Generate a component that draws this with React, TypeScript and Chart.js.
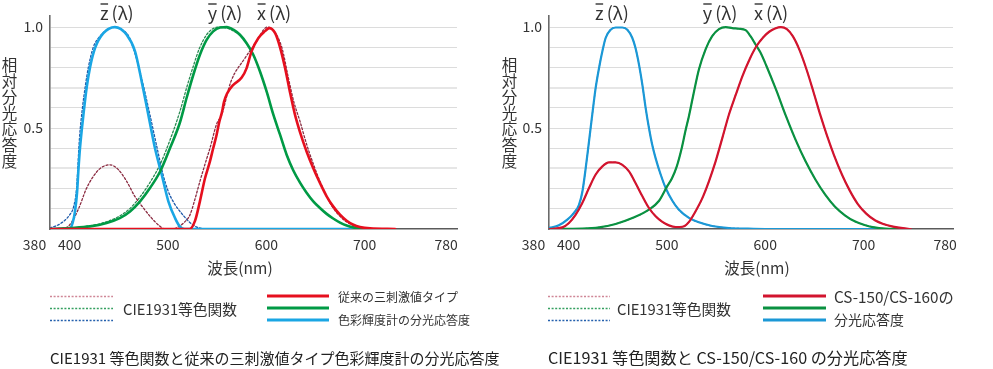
import React, { useEffect, useRef } from 'react';
import { Chart, registerables } from 'chart.js';
Chart.register(...registerables);

const FONT = "'Noto Sans CJK JP', 'Noto Sans', sans-serif";

// ---------- axis ticks ----------
const X_TICKS = [380, 400, 500, 600, 700, 780];
const Y_TICKS = [0, 0.1, 0.2, 0.3, 0.4, 0.5, 0.6, 0.7, 0.8, 0.9, 1.0];
const Y_LABELS: Record<string, string> = { '0.5': '0.5', '1': '1.0' };

// ---------- left panel: CIE1931 (dotted) ----------
const L_CIE_Z_NM = [380, 390, 400, 404, 407, 410, 413, 416, 419, 424, 430, 436, 446, 452, 460, 467, 474, 481, 489, 495, 500, 506, 516, 524, 532, 545, 700];
const L_CIE_Z = [0.005, 0.025, 0.07, 0.11, 0.2, 0.45, 0.6, 0.71, 0.8, 0.9, 0.95, 0.98, 1.0, 0.99, 0.955, 0.86, 0.73, 0.58, 0.4, 0.27, 0.19, 0.13, 0.065, 0.025, 0.005, 0, 0];

const L_CIE_X_NM = [380, 395, 400, 409, 417, 424, 431, 441, 449.5, 458, 466.5, 475, 483.4, 492, 497, 505, 512, 517, 522.4, 527, 532.5, 537.6, 542.7, 549.5, 554.6, 564, 578.4, 590.2, 597, 601, 608, 616, 622.4, 628, 634.3, 641, 648, 654.6, 661.4, 668, 675, 681.8, 692, 705.5, 720];
const L_CIE_X = [0, 0.005, 0.02, 0.1, 0.2, 0.26, 0.3, 0.318, 0.294, 0.236, 0.16, 0.104, 0.054, 0.013, 0, 0, 0.015, 0.035, 0.07, 0.14, 0.236, 0.32, 0.4, 0.52, 0.566, 0.73, 0.847, 0.93, 0.985, 1.0, 0.98, 0.896, 0.75, 0.63, 0.533, 0.42, 0.32, 0.236, 0.162, 0.104, 0.063, 0.035, 0.013, 0.002, 0];

const L_CIE_Y_NM = [380, 420, 440, 451, 461, 471, 481, 492, 502, 512, 519, 526, 532, 539, 546, 553, 560, 566, 573, 580, 586.8, 593.6, 600.4, 607.2, 614, 620.7, 627.5, 634.3, 641, 647.8, 654.6, 661.4, 668, 675, 681.8, 688.6, 695, 705];
const L_CIE_Y = [0, 0.015, 0.04, 0.065, 0.1, 0.155, 0.225, 0.32, 0.44, 0.58, 0.7, 0.81, 0.895, 0.96, 0.993, 1.0, 0.995, 0.982, 0.96, 0.92, 0.863, 0.78, 0.68, 0.566, 0.467, 0.368, 0.29, 0.23, 0.18, 0.137, 0.104, 0.075, 0.052, 0.032, 0.017, 0.008, 0.003, 0];

// ---------- left panel: conventional tristimulus meter (solid) ----------
const L_MET_Z_NM = [380, 400, 403, 405.5, 407.5, 409, 410.5, 414, 417.3, 420.7, 425.8, 434.3, 446, 458, 466.5, 473.3, 480, 486.8, 493.6, 500.4, 507.2, 512, 517, 705];
const L_MET_Z = [0, 0, 0.03, 0.09, 0.18, 0.3, 0.4, 0.566, 0.7, 0.8, 0.896, 0.97, 1.0, 0.962, 0.88, 0.73, 0.566, 0.4, 0.27, 0.137, 0.054, 0.013, 0, 0];

const L_MET_X_NM = [380, 522, 527.5, 532.5, 537.6, 542.7, 546, 549.5, 552.2, 555, 557, 560, 566.5, 575, 580, 585, 592, 598.7, 603, 609, 614, 619, 624, 629, 634.3, 641, 647.9, 654.6, 661.4, 668, 675, 681.8, 688.6, 695.3, 705.5, 731];
const L_MET_X = [0, 0, 0.04, 0.137, 0.25, 0.335, 0.4, 0.467, 0.53, 0.58, 0.63, 0.67, 0.714, 0.75, 0.797, 0.88, 0.946, 0.98, 0.995, 0.97, 0.9, 0.8, 0.68, 0.57, 0.48, 0.384, 0.3, 0.228, 0.162, 0.112, 0.071, 0.041, 0.021, 0.01, 0.003, 0];

const L_MET_Y_NM = [380, 400, 420.7, 437.6, 451, 461.4, 471.6, 481.7, 492, 502, 512, 519, 525.8, 532.5, 539.3, 546, 552.9, 559.7, 566.5, 573.2, 580, 586.8, 593.6, 600.4, 607.2, 614, 620.7, 627.5, 634.3, 641, 647.8, 654.6, 661.4, 668, 675, 681.8, 688.6, 695, 705];
const L_MET_Y = [0, 0.005, 0.013, 0.03, 0.054, 0.087, 0.137, 0.203, 0.285, 0.4, 0.525, 0.65, 0.764, 0.863, 0.937, 0.979, 0.998, 1.0, 0.987, 0.962, 0.92, 0.863, 0.78, 0.68, 0.566, 0.467, 0.368, 0.29, 0.23, 0.18, 0.137, 0.104, 0.075, 0.052, 0.032, 0.017, 0.008, 0.003, 0];

// ---------- right panel: CS-150/CS-160 (solid, CIE dotted beneath) ----------
const R_Z_NM = [380, 390, 398.6, 405.4, 410.5, 414, 417.3, 420.7, 424, 427.5, 431, 434.3, 437.6, 442.7, 447.8, 454.6, 459.7, 464.8, 468, 471.6, 475, 478.3, 481.7, 485, 488.5, 493.6, 498.7, 505.5, 512.2, 522.4, 532.5, 546, 563, 580, 600, 745];
const R_Z = [0.005, 0.018, 0.046, 0.08, 0.12, 0.186, 0.3, 0.434, 0.566, 0.7, 0.8, 0.88, 0.946, 0.987, 0.998, 0.998, 0.987, 0.946, 0.896, 0.813, 0.714, 0.6, 0.5, 0.417, 0.35, 0.27, 0.203, 0.14, 0.095, 0.055, 0.033, 0.015, 0.005, 0.002, 0, 0];

const R_X_NM = [380, 393.6, 400.3, 407, 414, 420.7, 427.5, 434.3, 441, 447.8, 454.6, 461.4, 468, 475, 481.7, 488.5, 495.3, 502, 508.9, 513, 518, 522.4, 529, 536, 542.7, 549.5, 556.3, 563, 570, 577, 584, 591, 598, 604, 610, 616, 622, 628, 635, 642, 649, 656, 663, 670, 678, 686, 694, 703, 712, 720, 730, 740, 748];
const R_X = [0, 0.008, 0.03, 0.07, 0.13, 0.203, 0.27, 0.31, 0.33, 0.33, 0.318, 0.285, 0.228, 0.162, 0.104, 0.063, 0.035, 0.018, 0.01, 0.01, 0.015, 0.035, 0.087, 0.153, 0.236, 0.335, 0.45, 0.566, 0.665, 0.76, 0.84, 0.905, 0.95, 0.977, 0.993, 1.0, 0.99, 0.955, 0.885, 0.79, 0.68, 0.565, 0.46, 0.365, 0.27, 0.19, 0.125, 0.075, 0.042, 0.025, 0.012, 0.004, 0];

const R_Y_NM = [380, 414, 431, 447.8, 464.8, 481.7, 492, 500, 505, 510, 515, 519, 522.4, 525.8, 532.5, 539.3, 546, 552.9, 559.7, 566.5, 573.2, 580, 585, 590, 595, 601, 611, 621, 631, 641, 651, 661, 671, 681, 691, 701, 711, 722, 735];
const R_Y = [0, 0.002, 0.008, 0.025, 0.054, 0.096, 0.14, 0.21, 0.25, 0.31, 0.4, 0.49, 0.56, 0.64, 0.79, 0.89, 0.955, 0.99, 1.0, 0.995, 0.992, 0.985, 0.955, 0.915, 0.875, 0.81, 0.69, 0.56, 0.44, 0.335, 0.245, 0.17, 0.11, 0.068, 0.038, 0.02, 0.008, 0.002, 0];

// ---------- text ----------
const Y_TITLE = '相対分光応答度';
const X_TITLE = '波長(nm)';
const CIE_LABEL = 'CIE1931等色関数';
const L_MET_LABEL = ['従来の三刺激値タイプ', '色彩輝度計の分光応答度'];
const R_MET_LABEL = ['CS-150/CS-160の', '分光応答度'];
const L_CAPTION = 'CIE1931 等色関数と従来の三刺激値タイプ色彩輝度計の分光応答度';
const R_CAPTION = 'CIE1931 等色関数と CS-150/CS-160 の分光応答度';
const CURVE_NAMES = ['z', 'y', 'x'];

type Curve = { nm: number[]; v: number[]; color: string; width: number; dash?: number[] };

interface PanelCfg {
  canvasLeft: number;
  canvasWidth: number;
  axisLeft: number;
  padRight: number;
  xMax: number;
  curves: Curve[];
  curveLabelNm: number[];
  dotColors: string[];
  solidColors: string[];
  solidWidth: number;
  cieLabelX: number;
  dotX: [number, number];
  solidX: [number, number];
  metLabel: string[];
  metLabelX: number;
  metLabelW: number[];
  metFixedSize: number;
  caption: string;
  captionX: number;
  captionW: number;
  xTitleX: number;
}

const L_RED = '#e60f1e', L_GREEN = '#009a45', L_BLUE = '#1aa6e4';
const R_RED = '#d2142e', R_GREEN = '#0a9141', R_BLUE = '#1b98d6';
const D_RED = '#8a2a40', D_GREEN = '#2a8a52', D_BLUE = '#1f5aaa';
const LEG_DOT = ['#cf8696', '#35a060', '#2460ad'];

const LEFT: PanelCfg = {
  canvasLeft: 0, canvasWidth: 500, axisLeft: 50, padRight: 43, xMax: 794,
  curves: [
    { nm: L_MET_X_NM, v: L_MET_X, color: L_RED, width: 2.6 },
    { nm: L_MET_Y_NM, v: L_MET_Y, color: L_GREEN, width: 2.6 },
    { nm: L_MET_Z_NM, v: L_MET_Z, color: L_BLUE, width: 2.6 },
    { nm: L_CIE_X_NM, v: L_CIE_X, color: D_RED, width: 1.3, dash: [2, 2] },
    { nm: L_CIE_Y_NM, v: L_CIE_Y, color: D_GREEN, width: 1.3, dash: [2, 2] },
    { nm: L_CIE_Z_NM, v: L_CIE_Z, color: D_BLUE, width: 1.3, dash: [2, 2] },
  ],
  curveLabelNm: [448, 558, 608],
  dotColors: LEG_DOT,
  solidColors: [L_RED, L_GREEN, L_BLUE],
  solidWidth: 2.8,
  cieLabelX: 123, dotX: [50, 113], solidX: [267, 329],
  metLabel: L_MET_LABEL, metLabelX: 338, metLabelW: [112, 123], metFixedSize: 12,
  caption: L_CAPTION, captionX: 50, captionW: 450,
  xTitleX: 240,
};

const RIGHT: PanelCfg = {
  canvasLeft: 500, canvasWidth: 493, axisLeft: 49, padRight: 40, xMax: 791,
  curves: [
    { nm: R_X_NM, v: R_X, color: R_RED, width: 2.2 },
    { nm: R_Y_NM, v: R_Y, color: R_GREEN, width: 2.2 },
    { nm: R_Z_NM, v: R_Z, color: R_BLUE, width: 2.2 },
    { nm: R_X_NM, v: R_X, color: D_RED, width: 1.2, dash: [2, 2] },
    { nm: R_Y_NM, v: R_Y, color: D_GREEN, width: 1.2, dash: [2, 2] },
    { nm: R_Z_NM, v: R_Z, color: D_BLUE, width: 1.2, dash: [2, 2] },
  ],
  curveLabelNm: [444, 554, 606],
  dotColors: LEG_DOT,
  solidColors: [R_RED, R_GREEN, R_BLUE],
  solidWidth: 2.8,
  cieLabelX: 117, dotX: [48, 110], solidX: [263, 326],
  metLabel: R_MET_LABEL, metLabelX: 334, metLabelW: [120, 70], metFixedSize: 0,
  caption: R_CAPTION, captionX: 48, captionW: 360,
  xTitleX: 257,
};

const TEXT = '#333333';

function fitText(ctx: CanvasRenderingContext2D, text: string, x: number, y: number, w: number, guess: number) {
  ctx.font = `${guess}px ${FONT}`;
  const m = ctx.measureText(text).width;
  const size = guess * (w / m);
  ctx.font = `${size}px ${FONT}`;
  ctx.fillText(text, x, y);
}

function makeOverlay(cfg: PanelCfg) {
  return {
    id: 'overlay',
    afterDraw(chart: any) {
      const ctx: CanvasRenderingContext2D = chart.ctx;
      const xs = chart.scales.x;
      const bottom = chart.chartArea.bottom;
      ctx.save();
      ctx.fillStyle = TEXT;
      // x tick labels
      ctx.font = `14px ${FONT}`;
      ctx.textAlign = 'center';
      ctx.textBaseline = 'middle';
      X_TICKS.forEach((t) => {
        let px = xs.getPixelForValue(t);
        if (t === 380) px -= 15.5;
        if (t === 780) px += 3;
        ctx.fillText(String(t), px, bottom + 16);
      });
      // x title
      ctx.font = `15.5px ${FONT}`;
      ctx.fillText(X_TITLE, cfg.xTitleX, 268);
      // y title, vertical
      ctx.font = `15.5px ${FONT}`;
      Array.from(Y_TITLE).forEach((ch, i) => {
        ctx.fillText(ch, 9.5, 65 + i * 16);
      });
      // curve labels with bar
      ctx.font = `18px ${FONT}`;
      cfg.curveLabelNm.forEach((nm, i) => {
        const cx = xs.getPixelForValue(nm);
        const letter = CURVE_NAMES[i];
        const rest = '(λ)';
        const gap = 3;
        const wl = ctx.measureText(letter).width;
        const wr = ctx.measureText(rest).width;
        const total = wl + gap + wr;
        const x0 = cx - total / 2;
        ctx.textAlign = 'left';
        ctx.fillText(letter, x0, 13);
        ctx.fillText(rest, x0 + wl + gap, 13);
        ctx.strokeStyle = TEXT;
        ctx.lineWidth = 1.4;
        ctx.beginPath();
        ctx.moveTo(x0 + 0.5, 4);
        ctx.lineTo(x0 + wl - 0.5, 4);
        ctx.stroke();
      });
      // legend: dotted
      const ly = [296, 308, 320];
      ctx.lineWidth = 1.4;
      ctx.setLineDash([2, 1.6]);
      cfg.dotColors.forEach((c, i) => {
        ctx.strokeStyle = c;
        ctx.beginPath();
        ctx.moveTo(cfg.dotX[0], ly[i] + 0.5);
        ctx.lineTo(cfg.dotX[1], ly[i] + 0.5);
        ctx.stroke();
      });
      ctx.setLineDash([]);
      ctx.lineWidth = cfg.solidWidth;
      cfg.solidColors.forEach((c, i) => {
        ctx.strokeStyle = c;
        ctx.beginPath();
        ctx.moveTo(cfg.solidX[0], ly[i]);
        ctx.lineTo(cfg.solidX[1], ly[i]);
        ctx.stroke();
      });
      ctx.textAlign = 'left';
      ctx.textBaseline = 'middle';
      fitText(ctx, CIE_LABEL, cfg.cieLabelX, 309, 114, 15);
      if (cfg.metFixedSize) {
        ctx.font = `${cfg.metFixedSize}px ${FONT}`;
        ctx.fillText(cfg.metLabel[0], cfg.metLabelX, 297);
        ctx.fillText(cfg.metLabel[1], cfg.metLabelX, 320);
      } else {
        fitText(ctx, cfg.metLabel[0], cfg.metLabelX, 297, cfg.metLabelW[0], 13);
        fitText(ctx, cfg.metLabel[1], cfg.metLabelX, 320, cfg.metLabelW[1], 13);
      }
      // caption
      ctx.fillStyle = '#222';
      fitText(ctx, cfg.caption, cfg.captionX, 358, cfg.captionW, 15);
      ctx.restore();
    },
  };
}

function Panel({ cfg }: { cfg: PanelCfg }) {
  const ref = useRef<HTMLCanvasElement>(null);
  useEffect(() => {
    const chart = new Chart(ref.current as HTMLCanvasElement, {
      type: 'line',
      data: {
        datasets: cfg.curves.map((c) => ({
          data: c.nm.map((x, i) => ({ x, y: c.v[i] })),
          borderColor: c.color,
          borderWidth: c.width,
          borderDash: c.dash || [],
          pointRadius: 0,
          fill: false,
          cubicInterpolationMode: 'monotone' as const,
          borderCapStyle: 'round' as const,
        })),
      },
      options: {
        animation: false,
        responsive: false,
        maintainAspectRatio: false,
        devicePixelRatio: 1,
        events: [],
        layout: { padding: { left: 0, top: 16, right: cfg.padRight, bottom: 140 } },
        plugins: { legend: { display: false }, tooltip: { enabled: false } },
        scales: {
          x: {
            type: 'linear',
            min: 380,
            max: cfg.xMax,
            ticks: { display: false },
            grid: { display: false, drawTicks: false },
            border: { display: true, color: '#5a5a5a', width: 1.6 },
            afterFit: (s: any) => { s.height = 0; },
          },
          y: {
            type: 'linear',
            min: 0,
            max: 1.055,
            afterBuildTicks: (s: any) => { s.ticks = Y_TICKS.map((v) => ({ value: v })); },
            ticks: {
              callback: (v: any) => Y_LABELS[String(v)] || '',
              padding: 7,
              font: { family: FONT, size: 14 },
              color: TEXT,
              autoSkip: false,
            },
            grid: {
              drawTicks: false,
              color: (c: any) => {
                const v = c.tick ? c.tick.value : -1;
                if (v === 0) return 'rgba(0,0,0,0)';
                if (v === 0.3 || v === 0.7) return '#e6e6e6';
                return '#dcdcdc';
              },
              lineWidth: (c: any) => {
                const v = c.tick ? c.tick.value : -1;
                return v === 0.3 || v === 0.7 ? 2 : 1;
              },
            },
            border: { display: true, color: '#6a6a6a', width: 1.6 },
            afterFit: (s: any) => { s.width = cfg.axisLeft; },
          },
        },
      } as any,
      plugins: [makeOverlay(cfg)],
    });
    return () => chart.destroy();
  }, []);
  return (
    <canvas
      ref={ref}
      width={cfg.canvasWidth}
      height={369}
      style={{ position: 'absolute', left: cfg.canvasLeft, top: 0, width: cfg.canvasWidth, height: 369 }}
    />
  );
}

export default function App() {
  return (
    <div style={{ position: 'absolute', left: 0, top: 0, width: 993, height: 369, background: '#fff', overflow: 'hidden' }}>
      <Panel cfg={LEFT} />
      <Panel cfg={RIGHT} />
    </div>
  );
}
